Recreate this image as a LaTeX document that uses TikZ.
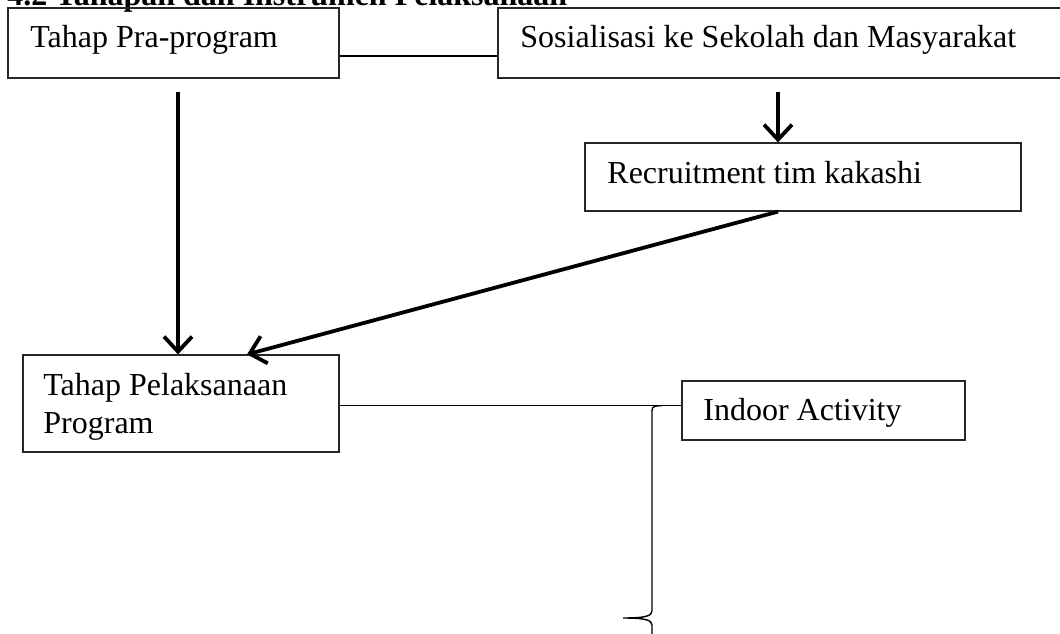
\documentclass[tikz,border=0pt]{standalone}
\usepackage{fontspec}
\setmainfont{Liberation Serif}
\usetikzlibrary{arrows.meta}

\begin{document}
\begin{tikzpicture}[x=0.5pt,y=-0.5pt,
  box/.style={draw=black!85,line width=0.6pt,inner sep=0pt},
  txt/.style={inner sep=0pt,anchor=base west,font=\fontsize{16}{19}\selectfont},
  arr/.style={-{Straight Barb[length=7.5pt,width=14pt]},line width=1.9pt}]
\useasboundingbox (0,0) rectangle (1060,633);
\clip (0,0) rectangle (1060,633);

\node[txt,font=\fontsize{16}{19}\selectfont\bfseries] (judul) at (7,5) {4.2 Tahapan dan Instrumen Pelaksanaan};

% kotak
\node[box,minimum width=165.5pt,minimum height=35pt] (pra) at (173.5,43) {};
\node[box,minimum width=285pt,minimum height=35pt] (sos) at (783,43) {};
\node[box,minimum width=218pt,minimum height=34pt] (rec) at (803,177) {};
\node[box,minimum width=158pt,minimum height=48.5pt] (pel) at (181,403.5) {};
\node[box,minimum width=141.5pt,minimum height=29.5pt] (ind) at (823.5,410.5) {};

\node[txt] (pra-t) at (30,47) {Tahap Pra-program};
\node[txt] (sos-t) at (520,47) {Sosialisasi ke Sekolah dan Masyarakat};
\node[txt] (rec-t) at (607,183) {Recruitment tim kakashi};
\node[txt,align=left] (pel-t) at (43,433) {Tahap Pelaksanaan\\Program};
\node[txt] (ind-t) at (703,420) {Indoor Activity};

% garis
\draw[line width=0.6pt] ([yshift=-6.5pt]pra.east) -- ([yshift=-6.5pt]sos.west);

\coordinate (a1) at (178,92);
\draw[arr] (a1) -- (a1 |- pel.north);
\coordinate (a2) at (778,92);
\draw[arr] (a2) -- (a2 |- rec.north);
\draw[arr] (rec.south -| a2) -- ([xshift=33pt]pel.north);

\draw[line width=0.6pt] ([yshift=-1pt]pel.east) -- ([yshift=-1pt]pel.east -| ind.west);

%\draw (pel.east) -- (ind.west);
\draw[line width=0.7pt] (662,405.7) .. controls (655,405.7) and (652,406) .. (652,411)
  -- (652,611) .. controls (652,616) and (645,618) .. (623,618)
  .. controls (645,618) and (652,620) .. (652,625) -- (652,825)
  .. controls (652,830) and (655,831) .. (662,831);

\end{tikzpicture}
\end{document}
